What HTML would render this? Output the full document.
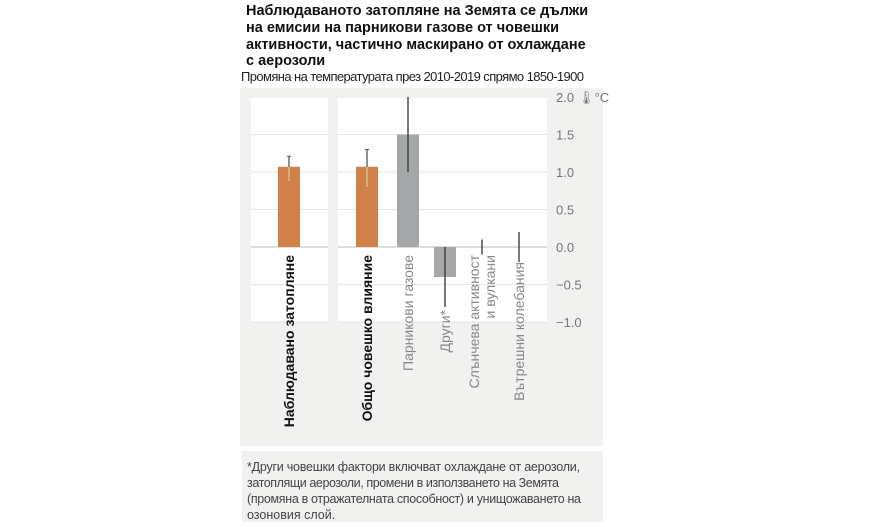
<!DOCTYPE html>
<html><head><meta charset="utf-8"><style>
body{margin:0;width:870px;height:522px;background:#fff;overflow:hidden;font-family:"Liberation Sans",sans-serif}
</style></head><body>
<svg width="870" height="522" xmlns="http://www.w3.org/2000/svg" font-family="Liberation Sans, sans-serif">
<rect x="240" y="88" width="363" height="358" fill="#f1f1f0"/>
<rect x="242" y="451" width="361" height="71" fill="#f1f1f0"/>
<g font-weight="bold" font-size="14.5" fill="#111">
<text x="246" y="15">Наблюдаваното затопляне на Земята се дължи</text>
<text x="246" y="32">на емисии на парникови газове от човешки</text>
<text x="246" y="49">активности, частично маскирано от охлаждане</text>
<text x="246" y="65">с аерозоли</text>
</g>
<text x="241" y="81" font-size="13" fill="#222" textLength="343">Промяна на температурата през 2010-2019 спрямо 1850-1900</text>
<rect x="251" y="97" width="77" height="225" fill="#fff"/>
<rect x="338" y="97" width="209" height="225" fill="#fff"/>
<g id="grid"></g><g id="bars"></g><g id="ticks"></g><g id="labels"></g>
<text x="578" y="102" font-size="13" fill="#777">🌡°C</text>
<g font-size="12.5" fill="#444">
<text x="247" y="471" textLength="333">*Други човешки фактори включват охлаждане от аерозоли,</text>
<text x="247" y="487" textLength="312">затоплящи аерозоли, промени в използването на Земята</text>
<text x="247" y="503" textLength="334">(промяна в отражателната способност) и унищожаването на</text>
<text x="247" y="519">озоновия слой.</text>
</g>
</svg>
<script>
const categories=["Наблюдавано затопляне","Общо човешко влияние","Парникови газове","Други*","Слънчева активност|и вулкани","Вътрешни колебания"];
const values=[1.07,1.07,1.5,-0.4,0,0];
const errLow=[0.88,0.8,1.0,-0.8,-0.1,-0.2];
const errHigh=[1.21,1.3,2.0,0,0.1,0.2];
const tickValues=[2.0,1.5,1.0,0.5,0.0,-0.5,-1.0];
const tickLabels=["2.0","1.5","1.0","0.5","0.0","−0.5","−1.0"];
const NS="http://www.w3.org/2000/svg";
const y=v=>247-v*75;
const xc=i=>[289,367,408,445,482,519][i];
const labelTop=[255,255,255,310,255,262];
const colors=["#cf8147","#cf8147","#a5a7a9","#a5a7a9","#a5a7a9","#a5a7a9"];
const boldL=[true,true,false,false,false,false];
function mk(t,a,p){const e=document.createElementNS(NS,t);for(const k in a)e.setAttribute(k,a[k]);p.appendChild(e);return e;}
const G=document.getElementById("grid"),B=document.getElementById("bars"),T=document.getElementById("ticks"),L=document.getElementById("labels");
tickValues.forEach((v,i)=>{
 [[251,328],[338,547]].forEach(r=>{const l=mk("line",{x1:r[0],x2:r[1],y1:y(v),y2:y(v),stroke:v===0?"#bbb":"#e6e6e6","stroke-width":1},G);
 
 });
 const t=mk("text",{x:556,y:y(v)+5,"font-size":13,fill:"#777"},T);t.textContent=tickLabels[i];
 
 
});
categories.forEach((c,i)=>{
 const x=xc(i);
 if(values[i]!==0){const r=mk("rect",{x:x-11,y:Math.min(y(values[i]),y(0)),width:22,height:Math.abs(y(values[i])-y(0)),fill:colors[i]},B);
 
 }
 const ec=i<2?"#555":"#333";
 const e=mk("line",{x1:x,x2:x,y1:y(errHigh[i]),y2:y(errLow[i]),stroke:ec,"stroke-width":1.3},B);
 
 
 if(i<2){const e2=mk("line",{x1:x,x2:x,y1:y(values[i]),y2:y(errLow[i]),stroke:"#f3c9a6","stroke-width":1.3},B);
 
 
 [errHigh[i]].forEach(v=>{const cap=mk("line",{x1:x-2,x2:x+2,y1:y(v),y2:y(v),stroke:ec},B);});}
 const parts=c.split("|");
 const g=mk("g",{transform:`translate(${x+5-(parts.length-1)*8},${labelTop[i]}) rotate(-90)`},L);
 
 
 parts.forEach((p,j)=>{const t=mk("text",{x:0,y:j*16,"text-anchor":"end","font-size":14,"font-weight":boldL[i]?"bold":"normal",fill:boldL[i]?"#111":"#888"},g);t.textContent=p;});
});
</script>
</body></html>
